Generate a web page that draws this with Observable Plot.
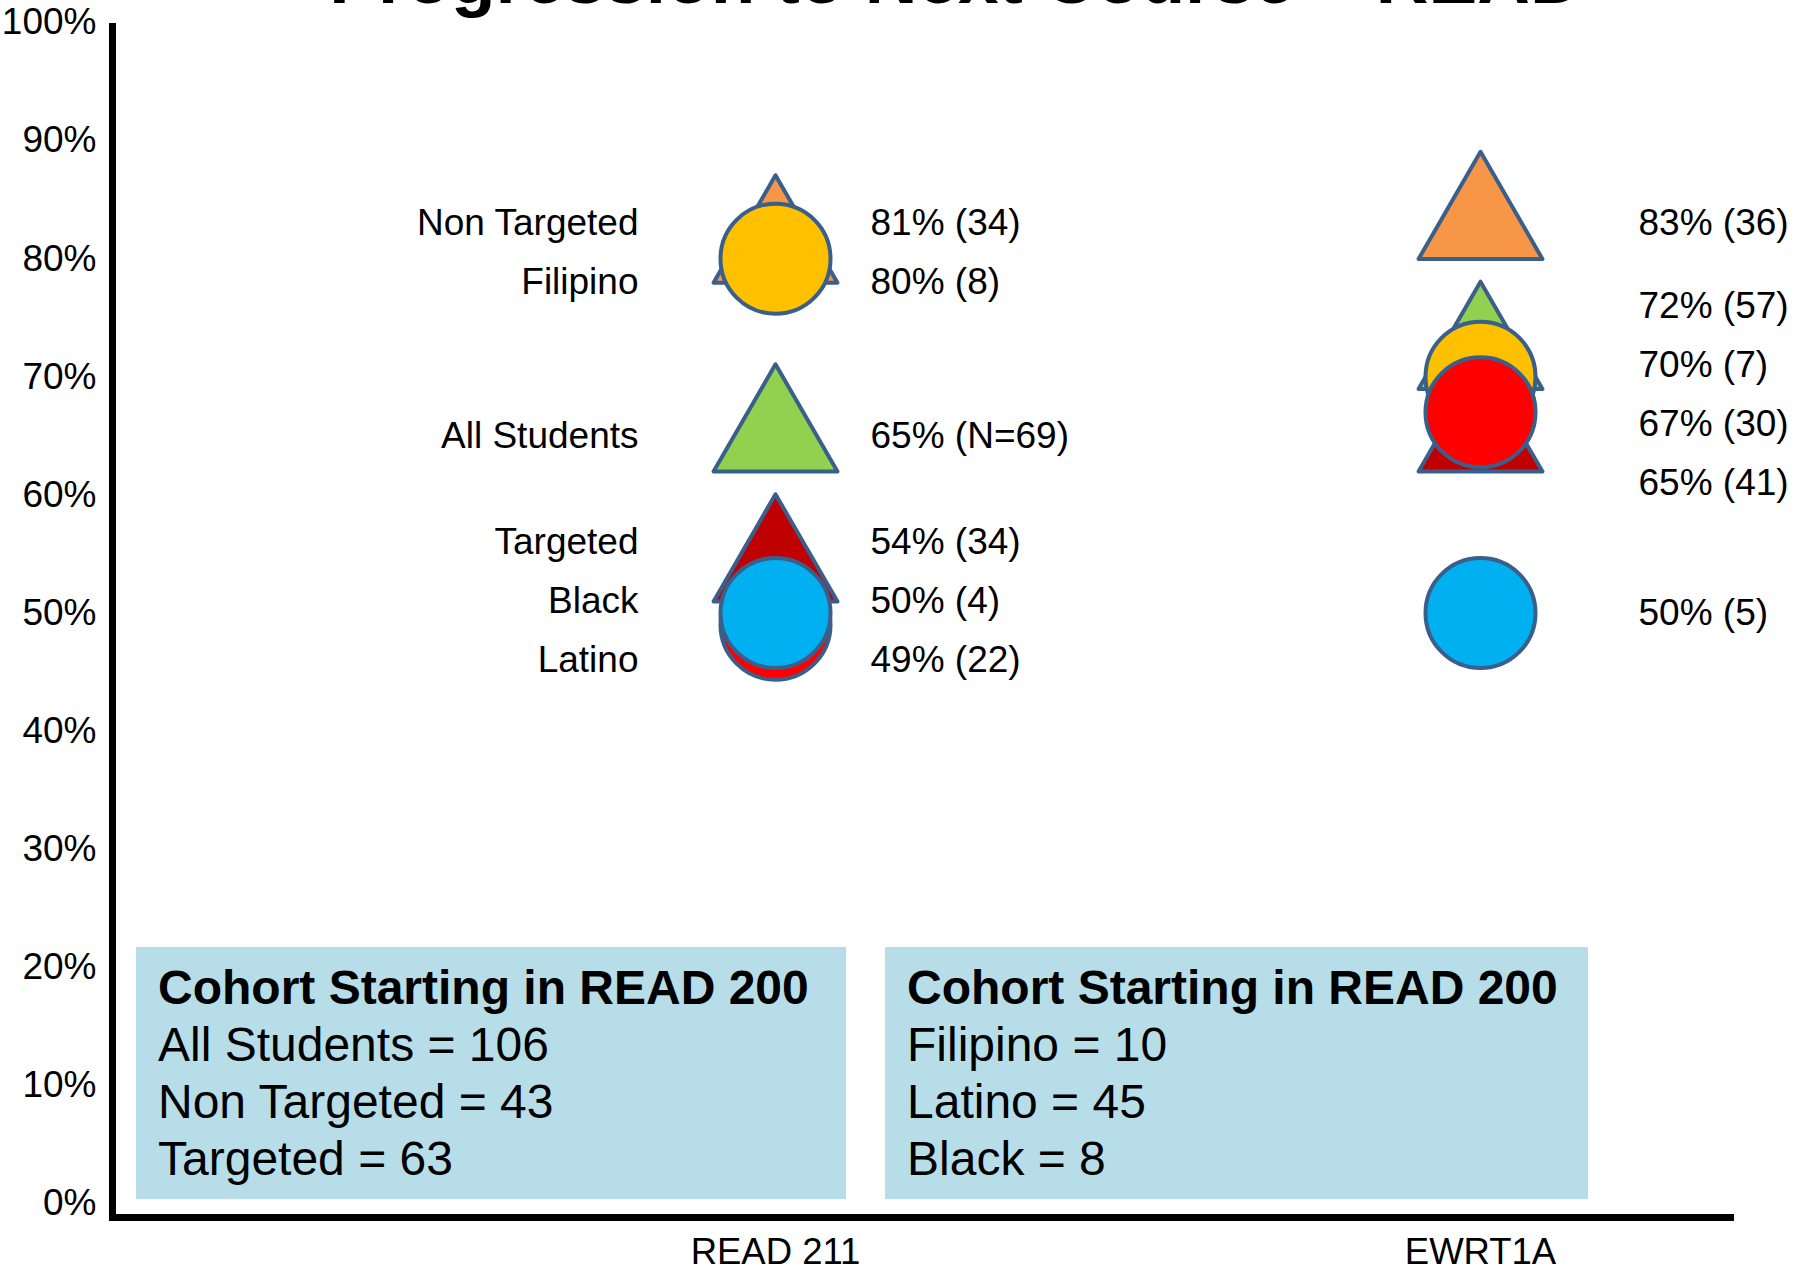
<!DOCTYPE html>
<html>
<head>
<meta charset="utf-8">
<script src="https://cdn.jsdelivr.net/npm/d3@7"></script>
<script src="https://cdn.jsdelivr.net/npm/@observablehq/plot@0.6"></script>
<style>
  html, body { margin: 0; padding: 0; background: #ffffff; }
  #wrap { position: relative; width: 1818px; height: 1273px; overflow: hidden;
          font-family: "Liberation Sans", Arial, sans-serif; color: #000; }
  #wrap svg.plot { position: absolute; left: 0; top: 0; }
  .cohort { position: absolute; background: #B7DEE8; box-sizing: border-box;
            padding: 12px 0 0 22px; font-size: 48px; line-height: 57px; color: #000; }
  .cohort .head { font-weight: bold; }
  #title { position: absolute; left: 0; top: 0; }
</style>
</head>
<body>
<div id="wrap"></div>
<script>
// ---------- data ----------
const title = "Progression to Next Course – READ";
const courses = ["READ 211", "EWRT1A"];
const categories = ["Non Targeted", "All Students", "Targeted", "Filipino", "Latino", "Black"];
const shapes = ["triangle", "triangle", "triangle", "circle", "circle", "circle"];
const colors = ["#F79646", "#92D050", "#C00000", "#FFC000", "#FF0000", "#00B0F0"];
const read211Pct = [81, 65, 54, 80, 49, 50];
const read211N   = [34, 69, 34, 8, 22, 4];
const ewrt1aPct  = [83, 72, 65, 70, 67, 50];
const ewrt1aN    = [36, 57, 41, 7, 30, 5];
const yTicks = [0, 10, 20, 30, 40, 50, 60, 70, 80, 90, 100];
const cohortHeading = "Cohort Starting in READ 200";
const cohortLeft  = ["All Students = 106", "Non Targeted = 43", "Targeted = 63"];
const cohortRight = ["Filipino = 10", "Latino = 45", "Black = 8"];

// ---------- build rows ----------
const FONT = '"Liberation Sans", Arial, sans-serif';
const series = {"READ 211": [read211Pct, read211N], "EWRT1A": [ewrt1aPct, ewrt1aN]};
let rows = [];
for (const course of courses) {
  const [pcts, ns] = series[course];
  categories.forEach((cat, i) => {
    const nText = (course === "READ 211" && cat === "All Students") ? `N=${ns[i]}` : `${ns[i]}`;
    rows.push({course, category: cat, shape: shapes[i], pct: pcts[i], n: ns[i],
               label: `${pcts[i]}% (${nText})`});
  });
}

// label dodge (cluster merge) in value units so labels of close values don't collide
function dodge(items, gap) {
  const sorted = items.slice().sort((a, b) => b.pct - a.pct);
  let clusters = sorted.map(d => ({items: [d], center: d.pct}));
  let changed = true;
  while (changed) {
    changed = false;
    for (let i = 0; i < clusters.length - 1; i++) {
      const a = clusters[i], b = clusters[i + 1];
      const aBottom = a.center - (a.items.length - 1) * gap / 2;
      const bTop = b.center + (b.items.length - 1) * gap / 2;
      if (aBottom - bTop < gap) {
        const merged = a.items.concat(b.items);
        const c = d3.mean(merged, d => d.pct);
        clusters.splice(i, 2, {items: merged, center: c});
        changed = true;
        break;
      }
    }
  }
  for (const c of clusters) {
    const top = c.center + (c.items.length - 1) * gap / 2;
    c.items.forEach((d, k) => { d.labelY = top - k * gap; });
  }
}
for (const course of courses) dodge(rows.filter(d => d.course === course), 5);

const triangles = rows.filter(d => d.shape === "triangle");
const circles = rows.filter(d => d.shape === "circle");
const readRows = rows.filter(d => d.course === "READ 211");
const ewrtRows = rows.filter(d => d.course === "EWRT1A");

// ---------- plot ----------
const chart = Plot.plot({
  width: 1818,
  height: 1273,
  marginLeft: 112,
  marginRight: 88,
  marginTop: 26,
  marginBottom: 56,
  style: {fontFamily: FONT, background: "transparent", color: "#000"},
  x: {type: "point", domain: courses, range: [775, 1480], padding: 0, label: null},
  y: {domain: [0, 100], range: [1203, 22], label: null},
  color: {type: "ordinal", domain: categories, range: colors},
  marks: [
    Plot.axisY({ticks: yTicks, tickFormat: d => d + "%", tickSize: 0, tickPadding: 16,
                fontSize: 37, label: null}),
    Plot.axisX({tickSize: 0, tickPadding: 21, fontSize: 36.5, label: null}),
    Plot.frame({anchor: "left", stroke: "#000", strokeWidth: 7}),
    Plot.frame({anchor: "bottom", stroke: "#000", strokeWidth: 7}),
    Plot.dot(triangles, {x: "course", y: "pct", symbol: "triangle", r: 46,
             fill: "category", stroke: "#3A5F8B", strokeWidth: 4, strokeLinejoin: "round"}),
    Plot.dot(circles, {x: "course", y: "pct", symbol: "circle", r: 55,
             fill: "category", stroke: "#3A5F8B", strokeWidth: 4}),
    Plot.text(readRows, {x: "course", y: "labelY", text: "label", textAnchor: "start",
              dx: 95, fontSize: 37, fill: "#000"}),
    Plot.text(ewrtRows, {x: "course", y: "labelY", text: "label", textAnchor: "start",
              dx: 158, fontSize: 37, fill: "#000"}),
    Plot.text(readRows, {x: "course", y: "labelY", text: "category", textAnchor: "end",
              dx: -137, fontSize: 37, fill: "#000"})
  ]
});
chart.classList.add("plot");
const wrap = document.getElementById("wrap");
wrap.appendChild(chart);

// ---------- title (cut off at top, as in the original slide) ----------
const tsvg = d3.select(wrap).append("svg").attr("id", "title")
  .attr("width", 1818).attr("height", 40);
tsvg.append("text").attr("x", 956).attr("y", 3).attr("text-anchor", "middle")
  .attr("font-family", FONT).attr("font-weight", "bold").attr("font-size", 73)
  .attr("fill", "#000").text(title);

// ---------- cohort boxes ----------
function cohortBox(left, width, lines) {
  const div = d3.select(wrap).append("div").attr("class", "cohort")
    .style("left", left + "px").style("top", "947px")
    .style("width", width + "px").style("height", "252px");
  div.append("div").attr("class", "head").text(cohortHeading);
  for (const l of lines) div.append("div").text(l);
}
cohortBox(136, 710, cohortLeft);
cohortBox(885, 703, cohortRight);
</script>
</body>
</html>
